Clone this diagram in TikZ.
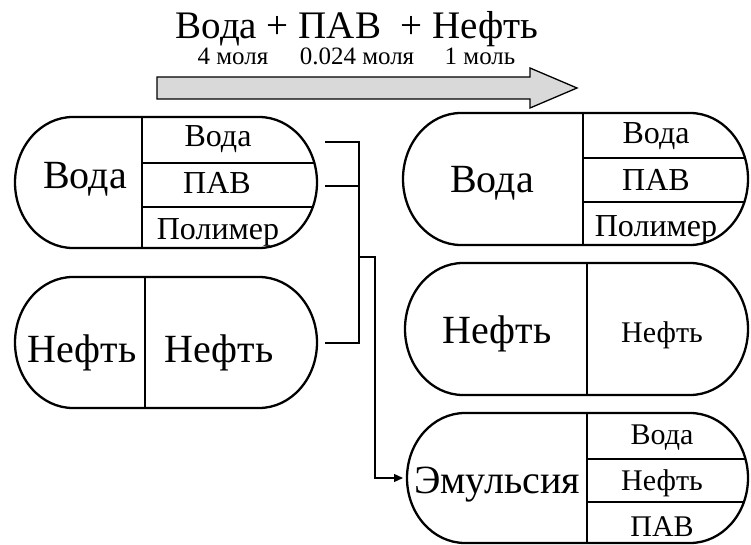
\documentclass[tikz,border=0pt]{standalone}
\usepackage{fontspec}
\setmainfont{Liberation Serif}
\usetikzlibrary{arrows.meta}
\newcommand{\capsulepath}[5]{(#1+58,#2) -- (#3-58,#2) arc[start angle=90,end angle=-90,x radius=58pt,y radius=#5pt] -- (#1+58,#4) arc[start angle=270,end angle=90,x radius=58pt,y radius=#5pt] -- cycle}
\tikzset{
  outline/.style={line width=2.3pt},
  inner/.style={line width=1.2pt},
  conn/.style={line width=1.2pt},
  big/.style={anchor=base,inner sep=0pt,font=\fontsize{40}{40}\selectfont},
  small/.style={anchor=base,inner sep=0pt,font=\fontsize{32}{32}\selectfont},
  smaller/.style={anchor=base,inner sep=0pt,font=\fontsize{30}{30}\selectfont},
  title/.style={anchor=base,inner sep=0pt,font=\fontsize{39}{39}\selectfont},
  sub/.style={anchor=base,inner sep=0pt,font=\fontsize{25}{25}\selectfont},
}
\begin{document}
\begin{tikzpicture}[x=1pt,y=-1pt]
\useasboundingbox (0,0) rectangle (751,545);
% title
\node[title] (t) at (357,39) {Вода + ПАВ\ \ + Нефть};
\node[sub] (s1) at (233,65) {4 моля};
\node[sub] (s2) at (357,65) {0.024 моля};
\node[sub] (s3) at (480,65) {1 моль};
% big arrow
\draw[line width=1.3pt,fill=black!15] (157,77) -- (530,77) -- (530,68) -- (577,88) -- (530,108) -- (530,99) -- (157,99) -- cycle;
% LT
\begin{scope}
\clip \capsulepath{15}{117}{317}{248}{65.5};
\draw[inner] (142,117) -- (142,248);
\draw[inner] (142,163) -- (330,163);
\draw[inner] (142,207) -- (330,207);
\end{scope}
\draw[outline] \capsulepath{15}{117}{317}{248}{65.5};
\node[big] (lt) at (85,189) {Вода};
\node[small] (lt1) at (218,147) {Вода};
\node[small] (lt2) at (217,194) {ПАВ};
\node[small] (lt3) at (218,239) {Полимер};
% LB
\begin{scope}
\clip \capsulepath{15}{277}{317}{408}{65.5};
\draw[inner] (145,277) -- (145,408);
\end{scope}
\draw[outline] \capsulepath{15}{277}{317}{408}{65.5};
\node[big] (lb) at (82,362) {Нефть};
\node[big] (lb1) at (219,362) {Нефть};
% RT
\begin{scope}
\clip \capsulepath{403}{113}{748}{245}{66};
\draw[inner] (583,113) -- (583,245);
\draw[inner] (583,158) -- (760,158);
\draw[inner] (583,202) -- (760,202);
\end{scope}
\draw[outline] \capsulepath{403}{113}{748}{245}{66};
\node[big] (rt) at (492,193) {Вода};
\node[small] (rt1) at (656,144) {Вода};
\node[small] (rt2) at (656,191) {ПАВ};
\node[small] (rt3) at (656,236) {Полимер};
% RM
\begin{scope}
\clip \capsulepath{405}{263}{748}{395}{66};
\draw[inner] (587,263) -- (587,395);
\end{scope}
\draw[outline] \capsulepath{405}{263}{748}{395}{66};
\node[big] (rm) at (497,343) {Нефть};
\node[smaller] (rm1) at (662,342) {Нефть};
% RB
\begin{scope}
\clip \capsulepath{407}{413}{748}{543}{65};
\draw[inner] (587,413) -- (587,543);
\draw[inner] (587,459) -- (760,459);
\draw[inner] (587,502) -- (760,502);
\end{scope}
\draw[outline] \capsulepath{407}{413}{748}{543}{65};
\node[big] (rb) at (497,493) {Эмульсия};
\node[smaller] (rb1) at (662,444) {Вода};
\node[smaller] (rb2) at (662,490) {Нефть};
\node[smaller] (rb3) at (662,536) {ПАВ};
% connectors
\coordinate (a1) at (325,142);
\coordinate (a2) at (325,186);
\coordinate (a3) at (325,343);
\coordinate (j1) at (359,142);
\coordinate (j2) at (359,186);
\coordinate (j3) at (359,343);
\coordinate (jb) at (359,257);
\coordinate (k1) at (375,257);
\coordinate (k2) at (375,478);
\coordinate (e) at (403,478);
\draw[conn] (a1) -- (j1) -- (j3) -- (a3);
\draw[conn] (a2) -- (j2);
\draw[conn,-{Triangle[length=9pt,width=8pt]}] (jb) -- (k1) -- (k2) -- (e);
\end{tikzpicture}
\end{document}
